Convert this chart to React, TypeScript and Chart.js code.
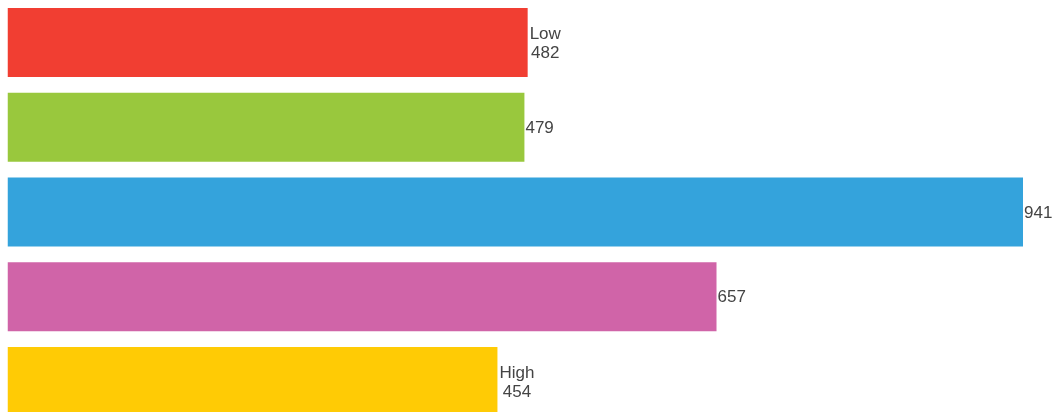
import React, { useEffect, useRef } from "react";
import { Chart, registerables } from "chart.js";

Chart.register(...registerables);

const categories = ["Low", "Level 2", "Level 3", "Level 4", "High"];
const endLabels = ["Low", "", "", "", "High"];
const values = [482, 479, 941, 657, 454];
const colors = ["#F13E32", "#99C83D", "#34A3DC", "#D064A8", "#FFCB05"];

const labelPlugin = {
  id: "barEndLabels",
  afterDatasetsDraw(chart: any) {
    const ctx = chart.ctx;
    const meta = chart.getDatasetMeta(0);
    ctx.save();
    ctx.font = '17px "Liberation Sans", Arial, sans-serif';
    ctx.fillStyle = "#444444";
    ctx.textBaseline = "middle";
    ctx.textAlign = "center";
    meta.data.forEach((bar: any, i: number) => {
      const lines = endLabels[i] ? [endLabels[i], String(values[i])] : [String(values[i])];
      const w = Math.max(...lines.map((l) => ctx.measureText(l).width));
      const cx = bar.x + (lines.length > 1 ? 2 : 1) + w / 2;
      const lh = 19;
      const y0 = bar.y + 1 - ((lines.length - 1) * lh) / 2;
      lines.forEach((l, k) => ctx.fillText(l, cx, y0 + k * lh));
    });
    ctx.restore();
  },
};

export default function App() {
  const ref = useRef<HTMLCanvasElement>(null);
  useEffect(() => {
    if (!ref.current) return;
    const chart = new Chart(ref.current, {
      type: "bar",
      data: {
        labels: categories,
        datasets: [
          {
            data: values,
            backgroundColor: colors,
            borderWidth: 0,
            categoryPercentage: 1,
            barPercentage: 0.814,
          },
        ],
      },
      options: {
        indexAxis: "y",
        responsive: false,
        animation: false,
        layout: { padding: { left: 7.5, right: 33, top: 0, bottom: 0 } },
        plugins: { legend: { display: false }, tooltip: { enabled: false } },
        scales: {
          x: { display: false, min: 0, max: 941 },
          y: { display: false },
        },
      },
      plugins: [labelPlugin],
    });
    return () => chart.destroy();
  }, []);
  return (
    <div style={{ position: "absolute", left: 0, top: 0, width: 1056, height: 412, overflow: "hidden" }}>
      <canvas ref={ref} width={1056} height={424} style={{ display: "block" }} />
    </div>
  );
}
